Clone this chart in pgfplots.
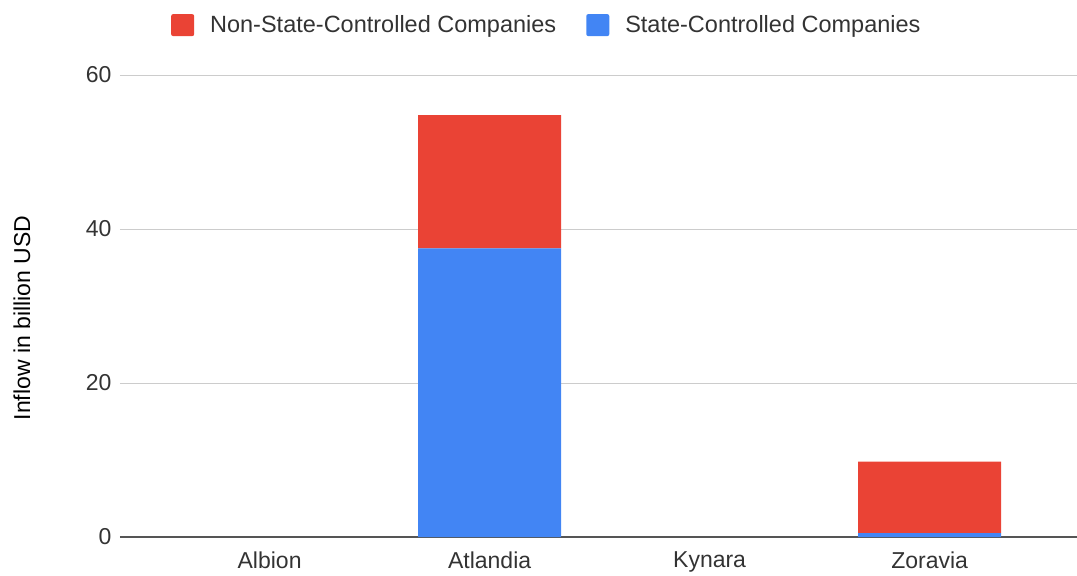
\documentclass[border=0pt]{standalone}
\usepackage{pgfplots}
\pgfplotsset{compat=1.18}
\usepackage{fontspec}
\setmainfont{Liberation Sans}
\definecolor{gred}{HTML}{EA4335}
\definecolor{gblue}{HTML}{4285F4}
\definecolor{gridc}{HTML}{CCCCCC}
\definecolor{axisc}{HTML}{555555}
\definecolor{txtc}{HTML}{333333}
\begin{document}
\begin{tikzpicture}
\path[use as bounding box] (0pt,0pt) rectangle (1077pt,576pt);
\begin{axis}[
  at={(120pt,39pt)}, anchor=south west,
  scale only axis,
  width=957pt, height=462pt,
  ybar stacked,
  bar width=0.65,
  xmin=-0.68, xmax=3.67,
  ymin=0, ymax=60,
  xtick={0,1,2,3},
  xticklabels={Albion,Atlandia,Kynara,Zoravia},
  ytick={0,20,40,60},
  major tick length=0pt,
  ymajorgrids,
  grid style={draw=gridc, line width=1pt},
  axis x line*=bottom,
  axis y line*=left,
  y axis line style={draw=none},
  x axis line style={draw=axisc, line width=1.6pt},
  /pgf/number format/assume math mode=true,
  tick label style={font=\fontsize{23}{27}\selectfont, text=txtc},
  yticklabel style={xshift=-5pt},
  xticklabel style={yshift=-11pt},
  ylabel={Inflow in billion USD},
  ylabel style={font=\fontsize{23}{27}\selectfont, text=black, at={(rel axis cs:0,0.474)}, anchor=center, xshift=0pt, yshift=98pt},
  legend columns=2,
  reverse legend,
  legend style={draw=none, fill=none, at={(0.446,1.108)}, anchor=center,
    font=\fontsize{23.5}{28}\selectfont, text=txtc,
    /tikz/every odd column/.append style={column sep=14pt},
    /tikz/every even column/.append style={column sep=28pt}},
  legend image code/.code={\fill[#1,draw=none, rounded corners=2pt] (0pt,-11pt) rectangle (23pt,11pt);},
]
\addplot[fill=gblue, draw=none] coordinates {(0,0) (1,37.5) (2,0) (3,0.5)};
\addlegendentry{State-Controlled Companies}
\addplot[fill=gred, draw=none] coordinates {(0,0) (1,17.3) (2,0) (3,9.3)};
\addlegendentry{Non-State-Controlled Companies}
\end{axis}
\end{tikzpicture}
\end{document}
